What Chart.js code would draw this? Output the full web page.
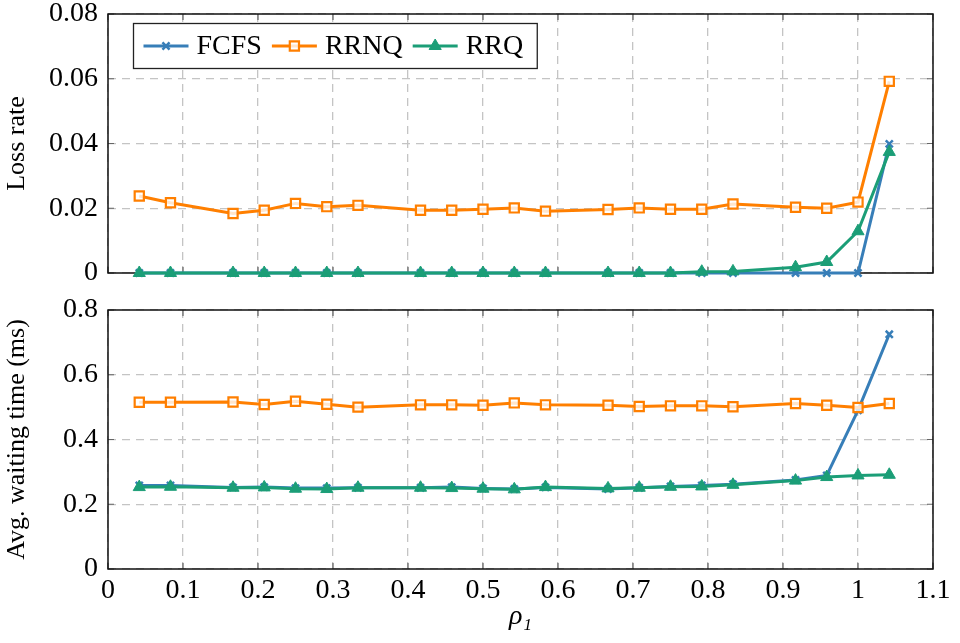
<!DOCTYPE html>
<html>
<head>
<meta charset="utf-8">
<title>Loss rate and waiting time vs load</title>
<script src="https://cdn.jsdelivr.net/npm/chart.js@4.4.1/dist/chart.umd.min.js"></script>
<style>
  html, body { margin: 0; padding: 0; background: #fff; }
  #wrap { position: relative; width: 960px; height: 643px; }
  canvas { position: absolute; left: 0; }
  #loss-chart { top: 0; }
  #wait-chart { top: 290px; }
</style>
</head>
<body>
<div id="wrap">
  <canvas id="loss-chart" width="960" height="290"></canvas>
  <canvas id="wait-chart" width="960" height="353"></canvas>
</div>
<script>
// Load values rho_1 (multiples of 1/24)
const rho = [0.0417, 0.0833, 0.1667, 0.2083, 0.25, 0.2917, 0.3333, 0.4167, 0.4583, 0.5, 0.5417,
             0.5833, 0.6667, 0.7083, 0.75, 0.7917, 0.8333, 0.9167, 0.9583, 1.0, 1.0417];

// Loss rate per scheduler
const lossFcfs = [0, 0, 0, 0, 0, 0, 0, 0, 0, 0, 0, 0, 0, 0, 0, 0, 0, 0, 0, 0, 0.0399];
const lossRrnq = [0.0238, 0.0217, 0.0184, 0.0194, 0.0215, 0.0205, 0.0209, 0.0194, 0.0194, 0.0197, 0.0201,
                  0.0191, 0.0196, 0.0201, 0.0197, 0.0197, 0.0213, 0.0203, 0.0200, 0.0219, 0.0592];
const lossRrq  = [0, 0, 0, 0, 0, 0, 0, 0, 0, 0, 0, 0, 0, 0, 0, 0.0004, 0.0005, 0.0018, 0.0034, 0.0129, 0.0374];

// Average waiting time (ms) per scheduler
const waitFcfs = [0.258, 0.258, 0.252, 0.253, 0.250, 0.250, 0.251, 0.251, 0.253, 0.249, 0.247,
                  0.252, 0.247, 0.251, 0.255, 0.258, 0.262, 0.275, 0.289, 0.490, 0.725];
const waitRrnq = [0.515, 0.515, 0.516, 0.508, 0.518, 0.509, 0.500, 0.507, 0.507, 0.506, 0.513,
                  0.507, 0.506, 0.502, 0.504, 0.504, 0.501, 0.511, 0.506, 0.499, 0.511];
const waitRrq  = [0.253, 0.254, 0.251, 0.252, 0.248, 0.247, 0.251, 0.251, 0.250, 0.248, 0.246,
                  0.253, 0.249, 0.251, 0.254, 0.255, 0.260, 0.273, 0.284, 0.289, 0.291];

// Tick positions and labels
const rhoTicks = [0, 0.1, 0.2, 0.3, 0.4, 0.5, 0.6, 0.7, 0.8, 0.9, 1, 1.1];
const rhoTickLabels = ['0', '0.1', '0.2', '0.3', '0.4', '0.5', '0.6', '0.7', '0.8', '0.9', '1', '1.1'];
const lossTicks = [0, 0.02, 0.04, 0.06, 0.08];
const lossTickLabels = ['0', '0.02', '0.04', '0.06', '0.08'];
const waitTicks = [0, 0.2, 0.4, 0.6, 0.8];
const waitTickLabels = ['0', '0.2', '0.4', '0.6', '0.8'];

const seriesNames = ['FCFS', 'RRNQ', 'RRQ'];

const SERIF = '"Liberation Serif", "DejaVu Serif", serif';
Chart.defaults.font.family = SERIF;
Chart.defaults.color = '#000';

const styles = {
  FCFS: { color: '#377eb8', pointStyle: 'crossRot', radius: 5, fill: '#377eb8', pointBorder: 2.5, order: 2 },
  RRNQ: { color: '#ff7f00', pointStyle: 'rect', radius: 6.5, fill: 'rgba(255,255,255,0.8)', pointBorder: 2.2, order: 1 },
  RRQ:  { color: '#1b9e77', pointStyle: 'triangle', radius: 7, fill: '#1b9e77', pointBorder: 1, order: 0 }
};

function makeDataset(name, values) {
  const s = styles[name];
  return {
    label: name,
    data: rho.map((x, i) => ({ x: x, y: values[i] })),
    borderColor: s.color,
    backgroundColor: s.color,
    borderWidth: 3,
    pointStyle: s.pointStyle,
    pointRadius: s.radius,
    pointBorderWidth: s.pointBorder,
    pointBorderColor: s.color,
    pointBackgroundColor: s.fill,
    tension: 0,
    clip: false,
    order: s.order
  };
}

// Box around the plot area plus inward tick marks on all four sides
const framePlugin = {
  id: 'frame',
  beforeDatasetsDraw(chart) {
    const { ctx, chartArea: a, scales } = chart;
    ctx.save();
    ctx.strokeStyle = '#666';
    ctx.lineWidth = 1.2;
    ctx.beginPath();
    scales.x.ticks.forEach(t => {
      const px = scales.x.getPixelForValue(t.value);
      ctx.moveTo(px, a.bottom); ctx.lineTo(px, a.bottom - 6);
      ctx.moveTo(px, a.top); ctx.lineTo(px, a.top + 6);
    });
    scales.y.ticks.forEach(t => {
      const py = scales.y.getPixelForValue(t.value);
      ctx.moveTo(a.left, py); ctx.lineTo(a.left + 6, py);
      ctx.moveTo(a.right, py); ctx.lineTo(a.right - 6, py);
    });
    ctx.stroke();
    ctx.strokeStyle = '#111';
    ctx.lineWidth = 1.5;
    ctx.strokeRect(a.left, a.top, a.right - a.left, a.bottom - a.top);
    ctx.restore();
  }
};

// Boxed legend with line + marker samples, top-left inside the plot
const legendPlugin = {
  id: 'boxLegend',
  afterDatasetsDraw(chart) {
    const ctx = chart.ctx;
    const a = chart.chartArea;
    const left = a.left + 25.5, top = a.top + 9.5, height = 45;
    const cy = top + height / 2;
    ctx.save();
    ctx.font = '28px ' + SERIF;
    let x = left + 10;
    const items = seriesNames.map(name => {
      const w = ctx.measureText(name).width;
      const item = { name, x, w };
      x += 45 + 8 + w + 10;
      return item;
    });
    const width = x - 10 + 14 - left;
    ctx.fillStyle = '#fff';
    ctx.fillRect(left, top, width, height);
    ctx.strokeStyle = '#222';
    ctx.lineWidth = 1.3;
    ctx.strokeRect(left, top, width, height);
    items.forEach(it => {
      const s = styles[it.name];
      ctx.strokeStyle = s.color;
      ctx.lineWidth = 3;
      ctx.beginPath();
      ctx.moveTo(it.x, cy);
      ctx.lineTo(it.x + 45, cy);
      ctx.stroke();
      ctx.fillStyle = s.fill;
      ctx.lineWidth = s.pointBorder;
      Chart.helpers.drawPoint(ctx, { pointStyle: s.pointStyle, radius: s.radius, borderWidth: s.pointBorder, rotation: 0 }, it.x + 22.5, cy);
      ctx.fillStyle = '#000';
      ctx.textBaseline = 'middle';
      ctx.textAlign = 'left';
      ctx.fillText(it.name, it.x + 53, cy + 1);
    });
    ctx.restore();
  }
};

const gridStyle = { color: '#c4c4c4', lineWidth: 1.3, drawTicks: false };
const borderStyle = { display: false, dash: [8, 6] };
const tickFont = { family: SERIF, size: 28 };

// Fixed axis sizes; drop the extra room Chart.js reserves for edge labels
function fixSize(s, prop, size) {
  s[prop] = size;
  s.paddingTop = 0;
  s.paddingBottom = 0;
  s.paddingLeft = 0;
  s.paddingRight = 0;
}

function xScale(showLabels, axisHeight) {
  return {
    type: 'linear',
    min: 0,
    max: 1.1,
    grid: gridStyle,
    border: borderStyle,
    afterBuildTicks: s => { s.ticks = rhoTicks.map(v => ({ value: v })); },
    afterFit: s => fixSize(s, 'height', axisHeight),
    ticks: {
      display: showLabels,
      padding: 5,
      maxRotation: 0,
      autoSkip: false,
      font: tickFont,
      callback: (v, i) => rhoTickLabels[i]
    },
    title: {
      display: showLabels,
      text: 'ρ₁',
      font: { family: SERIF, size: 28, style: 'italic' },
      padding: { top: 0, bottom: 10 }
    }
  };
}

function yScale(max, ticks, labels, titleText) {
  return {
    min: 0,
    max: max,
    grid: gridStyle,
    border: borderStyle,
    afterBuildTicks: s => { s.ticks = ticks.map(v => ({ value: v })); },
    afterFit: s => fixSize(s, 'width', 108),
    ticks: {
      padding: 10,
      font: tickFont,
      callback: (v, i) => labels[i]
    },
    title: {
      display: true,
      text: titleText,
      font: { family: SERIF, size: 26 },
      padding: { top: 2, bottom: 0 }
    }
  };
}

const common = {
  responsive: false,
  devicePixelRatio: 1,
  animation: false,
  events: [],
  plugins: { legend: { display: false }, tooltip: { enabled: false } }
};

new Chart(document.getElementById('loss-chart'), {
  type: 'line',
  data: {
    datasets: [
      makeDataset('FCFS', lossFcfs),
      makeDataset('RRNQ', lossRrnq),
      makeDataset('RRQ', lossRrq)
    ]
  },
  options: Object.assign({}, common, {
    layout: { padding: { left: 0, right: 27, top: 14, bottom: 0 } },
    scales: {
      x: xScale(false, 17),
      y: yScale(0.08, lossTicks, lossTickLabels, 'Loss rate')
    }
  }),
  plugins: [framePlugin, legendPlugin]
});

new Chart(document.getElementById('wait-chart'), {
  type: 'line',
  data: {
    datasets: [
      makeDataset('FCFS', waitFcfs),
      makeDataset('RRNQ', waitRrnq),
      makeDataset('RRQ', waitRrq)
    ]
  },
  options: Object.assign({}, common, {
    layout: { padding: { left: 0, right: 27, top: 20, bottom: 0 } },
    scales: {
      x: xScale(true, 74),
      y: yScale(0.8, waitTicks, waitTickLabels, 'Avg. waiting time (ms)')
    }
  }),
  plugins: [framePlugin]
});
</script>
</body>
</html>
